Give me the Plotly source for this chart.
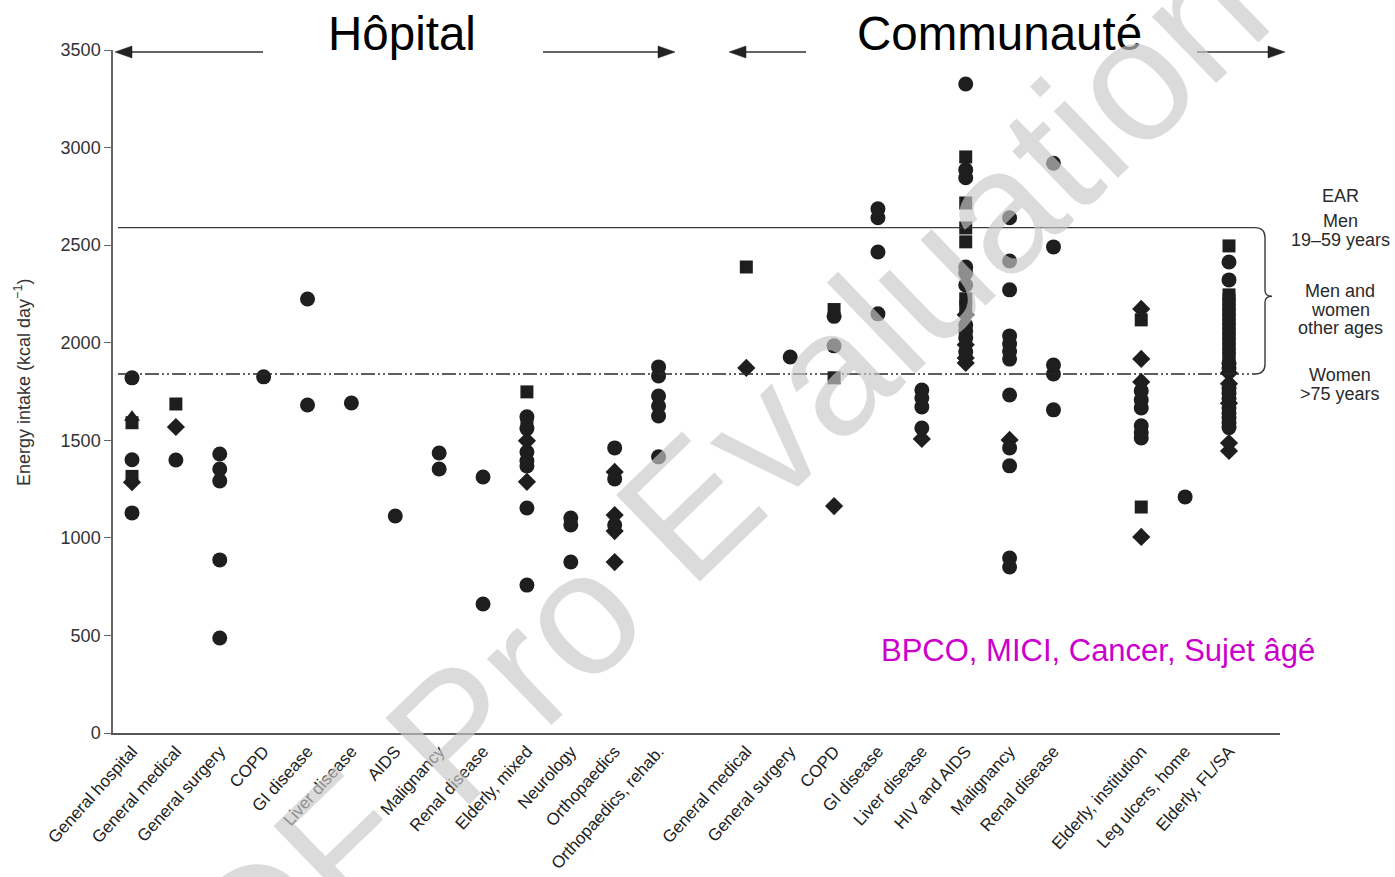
import plotly.graph_objects as go

# ---- categories -------------------------------------------------------
hospital_labels = [
    "General hospital", "General medical", "General surgery", "COPD",
    "GI disease", "Liver disease", "AIDS", "Malignancy", "Renal disease",
    "Elderly, mixed", "Neurology", "Orthopaedics", "Orthopaedics, rehab.",
]
community_labels = [
    "General medical", "General surgery", "COPD", "GI disease",
    "Liver disease", "HIV and AIDS", "Malignancy", "Renal disease",
]
community_elderly_labels = ["Elderly, institution", "Leg ulcers, home", "Elderly, FL/SA"]

# slot index of every category along the x axis (one empty slot between groups)
hospital_pos = list(range(0, 13))
community_pos = list(range(14, 22))
elderly_pos = list(range(23, 26))
positions = hospital_pos + community_pos + elderly_pos
labels = hospital_labels + community_labels + community_elderly_labels

# ---- energy intake (kcal/day), one list per category -------------------
circle_vals = [
    [1820, 1400, 1128], [1399], [1430, 1353, 1292, 887, 487], [1825],
    [2224, 1681], [1691], [1112], [1435, 1353], [1312, 661],
    [1620, 1560, 1440, 1395, 1368, 1153, 758], [1102, 1066, 876],
    [1461, 1302, 1066], [1876, 1830, 1727, 1676, 1625, 1415],
    [], [1927], [2135, 1984], [2686, 2640, 2465, 2148],
    [1758, 1717, 1671, 1563],
    [3326, 2886, 2845, 2388, 2358, 2296, 2091, 2060, 2025, 1953],
    [2640, 2419, 2271, 2035, 1995, 1955, 1916, 1732, 1461, 1369, 897, 851],
    [2920, 2491, 1886, 1840, 1656],
    [1753, 1707, 1666, 1574, 1538, 1512], [1210],
    [2414, 2322, 1895, 1870, 1765, 1740, 1715, 1665, 1640, 1615, 1590, 1565],
]
square_vals = [
    [1590, 1315], [1686], [], [], [], [], [], [], [], [1748, 1588], [], [], [],
    [2388], [], [2170, 1820], [], [], [2952, 2716, 2588, 2517, 2225, 2184], [], [],
    [2117, 1158], [],
    [2496, 2245, 2220, 2195, 2170, 2145, 2120, 2095, 2070, 2045, 2020, 1995,
     1970, 1945, 1920],
]
diamond_vals = [
    [1285], [1568], [], [], [], [], [], [], [], [1497, 1287], [],
    [1338, 1117, 1035, 876], [],
    [1871], [], [1163], [], [1507], [2143, 1989, 1922, 1896], [1502], [],
    [2173, 1917, 1799, 1005], [], [1845, 1790, 1690, 1486, 1445],
]
triangle_vals = [
    [1618], [], [], [], [], [], [], [], [], [], [], [], [],
    [], [], [], [], [], [], [], [], [], [], [],
]

# estimated average requirement reference levels (kcal/day)
ear_men_19_59 = 2590
ear_women_over_75 = 1840

y_ticks = [0, 500, 1000, 1500, 2000, 2500, 3000, 3500]

# ---- layout geometry --------------------------------------------------
FIG_W, FIG_H = 1395, 877
L, R, T, B = 113, 115, 50, 144
PW = FIG_W - L - R
PH = FIG_H - T - B
SLOT_PX = 43.88
X0_PX = 132
x_lo = -(X0_PX - L) / SLOT_PX
x_hi = x_lo + PW / SLOT_PX


def px(xp):
    return (xp - L) / PW


def py(yp):
    return (FIG_H - B - yp) / PH


INK = "#1e1e1e"
SANS = "Liberation Sans, Arial, sans-serif"

fig = go.Figure()


def add_series(vals, symbol, size):
    xs, ys = [], []
    for pos, vs in zip(positions, vals):
        for v in vs:
            xs.append(pos)
            ys.append(v)
    fig.add_trace(go.Scatter(
        x=xs, y=ys, mode="markers", hoverinfo="skip",
        marker=dict(symbol=symbol, size=size, color=INK, line=dict(width=0)),
        cliponaxis=False,
    ))


add_series(triangle_vals, "triangle-up", 14)
add_series(square_vals, "square", 13)
add_series(diamond_vals, "diamond", 14)
add_series(circle_vals, "circle", 15)

# EAR lines with the bracket on the right
bx_end, bx = px(1255), px(1265)
k = 10 / PH * 3500  # 10 px expressed in kcal
mid = 2238
shapes = [
    dict(type="path", xref="paper", yref="y",
         path=(f"M {px(118)},{ear_men_19_59} L {bx_end},{ear_men_19_59} "
               f"Q {bx},{ear_men_19_59} {bx},{ear_men_19_59 - k} "
               f"L {bx},{mid + k * 0.6} Q {bx},{mid} {px(1272)},{mid} "
               f"Q {bx},{mid} {bx},{mid - k * 0.6} "
               f"L {bx},{ear_women_over_75 + k} "
               f"Q {bx},{ear_women_over_75} {bx_end},{ear_women_over_75}"),
         line=dict(color="#3a3a3a", width=1.4)),
    dict(type="line", xref="paper", yref="y",
         x0=px(118), x1=bx_end, y0=ear_women_over_75, y1=ear_women_over_75,
         line=dict(color="#2a2a2a", width=1.4, dash="14px,3px,2px,3px,2px,3px")),
]

# group arrows above the plot: line plus a filled head
ARROW_Y = 52
for head, tail in [(115, 263), (675, 543), (729, 806), (1285, 1197)]:
    d = 1 if tail > head else -1
    shapes.append(dict(type="line", xref="paper", yref="paper",
                       x0=px(tail), x1=px(head + d * 8), y0=py(ARROW_Y), y1=py(ARROW_Y),
                       line=dict(color="#333", width=1.3)))
    shapes.append(dict(type="path", xref="paper", yref="paper",
                       path=(f"M {px(head)},{py(ARROW_Y)} "
                             f"L {px(head + d * 17)},{py(ARROW_Y - 6)} "
                             f"L {px(head + d * 17)},{py(ARROW_Y + 6)} Z"),
                       fillcolor="#222", line=dict(color="#222", width=0.5)))

ann = []
# side labels
for text, yy in [("EAR", 196), ("Men", 221), ("19\u201359 years", 240),
                 ("Men and", 291), ("women", 310), ("other ages", 328),
                 ("Women", 375), (">75 years", 394)]:
    ann.append(dict(x=px(1340), y=py(yy), xref="paper", yref="paper",
                    text=text, showarrow=False, xanchor="center", yanchor="middle",
                    font=dict(family=SANS, size=18, color="#2a2a2a")))

# group headings
for text, cx in [("Hôpital", 402), ("Communauté", 999)]:
    ann.append(dict(x=px(cx), y=py(33), xref="paper", yref="paper", text=text,
                    showarrow=False, xanchor="center", yanchor="middle",
                    font=dict(family=SANS, size=47.5, color="#000")))

ann.append(dict(x=px(1098), y=py(650), xref="paper", yref="paper",
                text="BPCO, MICI, Cancer, Sujet âgé", showarrow=False,
                xanchor="center", yanchor="middle",
                font=dict(family=SANS, size=31, color="#cc00cc")))

ann.append(dict(x=px(22), y=py(383), xref="paper", yref="paper",
                text="Energy intake (kcal day<sup>\u22121</sup>)", textangle=-90,
                showarrow=False, xanchor="center", yanchor="middle",
                font=dict(family=SANS, size=18, color="#333")))

# overlaid evaluation stamp
ann.append(dict(x=px(682), y=py(514), xref="paper", yref="paper",
                text="PDF Pro Evaluation", textangle=-44, showarrow=False,
                xanchor="center", yanchor="middle",
                font=dict(family=SANS, size=175, color="rgba(200,200,200,0.66)")))

fig.update_layout(
    width=FIG_W, height=FIG_H,
    margin=dict(l=L, r=R, t=T, b=B, autoexpand=False),
    paper_bgcolor="white", plot_bgcolor="white",
    showlegend=False, hovermode=False,
    annotations=ann, shapes=shapes,
    xaxis=dict(
        range=[x_lo, x_hi], tickmode="array", tickvals=positions, ticktext=labels,
        tickangle=-48, ticks="", showgrid=False, zeroline=False,
        showline=True, linecolor="#555", linewidth=1.5,
        tickfont=dict(family=SANS, size=17, color="#222"),
    ),
    yaxis=dict(
        range=[0, 3500], tickmode="array", tickvals=y_ticks,
        ticks="outside", ticklen=7, tickcolor="#666", tickwidth=1,
        showgrid=False, zeroline=False, showline=True, linecolor="#666", linewidth=1.5,
        tickfont=dict(family=SANS, size=18, color="#333"),
    ),
)

fig.write_html("out.html")
